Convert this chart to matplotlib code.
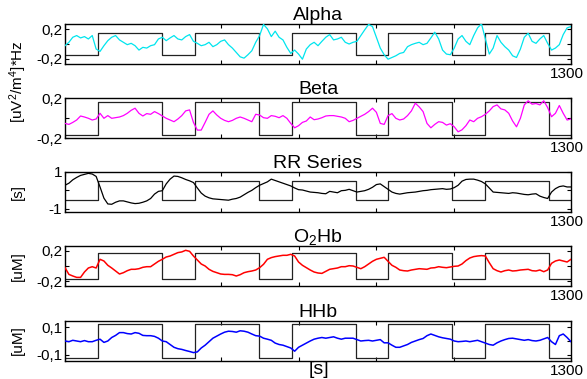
import matplotlib
matplotlib.use("Agg")
import matplotlib.pyplot as plt
from matplotlib.transforms import ScaledTranslation

plt.rcParams['font.family'] = ['Liberation Sans', 'DejaVu Sans']
plt.rcParams['mathtext.default'] = 'regular'

# ---------------- data ----------------
t = list(range(0, 1301, 10))

# block design (task on / off) transition times in seconds
task_on = [85, 334, 583, 831, 1079]
task_off = [250, 498, 747, 995, 1243]

alpha = [-0.023, 0.023, 0.091, 0.114, 0.082, 0.100, 0.068, 0.114, -0.068, -0.100,
         -0.023, 0.045, 0.091, 0.114, 0.055, 0.023, -0.009, 0.009, -0.023, -0.082,
         -0.045, -0.055, -0.023, -0.009, 0.068, 0.091, 0.045, 0.082, 0.114, 0.068,
         0.055, 0.100, 0.127, 0.036, 0.009, -0.023, -0.009, 0.023, -0.036, -0.009,
         0.036, 0.055, -0.009, -0.055, -0.114, -0.173, -0.191, -0.145, -0.091, 0.023,
         0.114, 0.264, 0.205, 0.100, 0.173, 0.091, 0.055, -0.045, -0.127, -0.082,
         -0.136, -0.205, -0.068, -0.009, 0.023, -0.023, 0.036, 0.091, 0.127, 0.055,
         0.068, 0.091, 0.023, 0.000, 0.023, 0.036, 0.114, 0.191, 0.264, 0.236,
         0.091, -0.055, -0.145, -0.205, -0.182, -0.159, -0.127, -0.114, -0.036, -0.009,
         0.009, 0.023, -0.009, 0.009, 0.082, 0.159, 0.068, -0.082, -0.136, -0.145,
         -0.055, 0.068, 0.114, 0.036, -0.009, 0.114, 0.218, 0.273, 0.068, -0.136,
         -0.055, 0.114, 0.023, -0.036, -0.082, -0.159, -0.182, -0.068, 0.091, 0.145,
         0.036, 0.009, 0.068, 0.114, 0.009, -0.082, -0.055, -0.009, 0.127, 0.218,
         0.236]

beta = [-0.054, -0.064, -0.044, -0.020, 0.020, 0.010, -0.003, -0.020, -0.010, 0.047,
        -0.003, 0.024, -0.003, 0.003, 0.010, 0.024, 0.047, 0.077, 0.098, 0.047,
        0.020, 0.044, 0.037, 0.064, 0.044, 0.020, -0.003, -0.020, -0.037, -0.010,
        0.024, 0.071, 0.081, -0.044, -0.121, -0.121, -0.044, 0.037, 0.071, 0.030,
        -0.003, -0.024, -0.037, -0.024, -0.003, 0.010, -0.003, -0.020, -0.037, 0.037,
        0.030, 0.003, -0.003, 0.024, 0.017, 0.003, 0.024, -0.003, -0.054, -0.098,
        -0.077, -0.044, -0.030, 0.010, -0.017, -0.010, 0.003, 0.020, 0.024, 0.024,
        0.017, 0.010, -0.003, -0.037, -0.024, -0.003, 0.017, 0.037, 0.064, 0.098,
        0.057, -0.054, -0.064, 0.024, 0.044, -0.003, -0.020, -0.010, 0.024, 0.071,
        0.148, 0.111, 0.064, -0.054, -0.098, -0.064, -0.037, -0.044, -0.071, -0.057,
        -0.088, -0.138, -0.118, -0.077, -0.020, -0.037, -0.003, 0.013, 0.037, 0.071,
        0.114, 0.131, 0.091, 0.081, 0.047, -0.030, -0.088, -0.003, 0.131, 0.172,
        0.138, 0.145, 0.131, 0.172, 0.104, 0.013, 0.047, 0.125, 0.047, -0.020,
        -0.010]

rr = [0.278, 0.389, 0.574, 0.704, 0.815, 0.870, 0.926, 0.889, 0.759, 0.185,
      -0.426, -0.741, -0.759, -0.648, -0.574, -0.574, -0.630, -0.685, -0.722, -0.704,
      -0.648, -0.574, -0.444, -0.204, -0.056, -0.019, 0.352, 0.611, 0.778, 0.759,
      0.685, 0.593, 0.519, 0.426, 0.130, -0.148, -0.315, -0.407, -0.463, -0.481,
      -0.500, -0.519, -0.537, -0.481, -0.444, -0.370, -0.241, -0.111, 0.000, 0.148,
      0.278, 0.370, 0.463, 0.611, 0.537, 0.463, 0.389, 0.315, 0.241, 0.130,
      0.037, 0.019, -0.037, -0.093, -0.111, -0.130, -0.167, -0.185, -0.056, -0.093,
      -0.130, -0.019, 0.000, 0.056, -0.019, -0.093, -0.056, -0.019, 0.056, 0.167,
      0.315, 0.352, 0.204, 0.056, -0.093, -0.167, -0.204, -0.167, -0.130, -0.111,
      -0.093, -0.056, -0.019, 0.000, 0.037, 0.056, 0.074, 0.093, 0.056, 0.074,
      0.148, 0.278, 0.500, 0.593, 0.611, 0.611, 0.556, 0.481, 0.352, 0.130,
      -0.093, -0.111, -0.130, -0.148, -0.167, -0.130, -0.148, -0.185, -0.222, -0.241,
      -0.204, -0.185, -0.315, -0.389, -0.444, -0.093, 0.093, 0.204, 0.241, 0.185,
      0.185]

o2hb = [-0.022, -0.109, -0.130, -0.148, -0.148, -0.078, -0.026, -0.009, -0.026, 0.087,
        0.065, 0.009, -0.026, -0.065, -0.104, -0.087, -0.061, -0.043, -0.043, -0.035,
        -0.017, -0.009, -0.009, 0.026, 0.061, 0.087, 0.117, 0.130, 0.152, 0.174,
        0.183, 0.204, 0.191, 0.130, 0.078, 0.026, 0.000, -0.043, -0.070, -0.087,
        -0.104, -0.109, -0.109, -0.113, -0.130, -0.113, -0.087, -0.074, -0.065, -0.052,
        -0.022, 0.022, 0.087, 0.109, 0.122, 0.130, 0.139, 0.139, 0.152, 0.130,
        0.052, 0.009, -0.022, -0.052, -0.078, -0.091, -0.096, -0.070, -0.043, -0.035,
        -0.026, -0.009, -0.009, 0.004, 0.000, -0.017, -0.035, -0.009, 0.026, 0.061,
        0.087, 0.100, 0.113, 0.061, 0.009, -0.017, -0.052, -0.061, -0.065, -0.052,
        -0.043, -0.035, -0.039, -0.043, -0.026, -0.022, -0.009, -0.017, -0.022, -0.013,
        -0.004, 0.000, 0.026, 0.070, 0.104, 0.122, 0.130, 0.135, 0.130, 0.043,
        -0.035, -0.061, -0.078, -0.061, -0.052, -0.065, -0.061, -0.052, -0.048, -0.043,
        -0.061, -0.065, -0.052, -0.074, -0.052, 0.035, 0.065, 0.078, 0.065, 0.052,
        0.087]

hhb = [0.000, -0.005, 0.005, 0.000, -0.005, 0.003, -0.005, -0.005, 0.005, 0.013,
       -0.010, 0.000, 0.025, 0.040, 0.060, 0.060, 0.053, 0.050, 0.060, 0.055,
       0.040, 0.038, 0.038, 0.033, 0.020, 0.000, -0.005, -0.025, -0.045, -0.055,
       -0.060, -0.068, -0.075, -0.083, -0.078, -0.050, -0.030, -0.005, 0.020, 0.035,
       0.050, 0.063, 0.070, 0.068, 0.063, 0.073, 0.070, 0.063, 0.050, 0.038,
       0.035, 0.020, 0.013, 0.005, -0.015, -0.025, -0.030, -0.040, -0.050, -0.073,
       -0.045, -0.030, -0.015, 0.000, 0.013, 0.020, 0.025, 0.020, 0.025, 0.030,
       0.020, 0.013, 0.020, 0.020, 0.020, 0.010, 0.000, 0.003, 0.005, 0.000,
       0.005, 0.010, -0.013, -0.013, -0.030, -0.045, -0.045, -0.035, -0.025, -0.010,
       0.000, 0.010, 0.018, 0.038, 0.050, 0.040, 0.030, 0.023, 0.018, 0.013,
       0.000, -0.005, -0.003, 0.000, -0.005, 0.000, 0.005, -0.005, -0.015, -0.025,
       -0.030, -0.013, 0.000, 0.010, 0.018, 0.020, 0.015, 0.010, 0.005, 0.010,
       0.003, 0.000, 0.005, 0.015, 0.025, -0.005, -0.025, 0.038, 0.050, 0.025,
       -0.005]

titles = ['Alpha', 'Beta', 'RR Series', 'O$_2$Hb', 'HHb']
colors = ['#00e5ee', '#ff00ff', '#000000', '#ff0000', '#0000ff']
series = [alpha, beta, rr, o2hb, hhb]
box_amp = [0.155, 0.165, 0.5, 0.165, 0.125]
ylims = [(-0.27, 0.27), (-0.2, 0.2), (-1.18, 1.0), (-0.26, 0.26), (-0.143, 0.143)]
ytick_vals = [[-0.2, 0, 0.2], [-0.2, 0, 0.2], [-1, 0, 1], [-0.2, 0, 0.2], [-0.1, 0, 0.1]]
ytick_labels = [['-0,2', '', '0,2'], ['-0,2', '', '0,2'], ['-1', '', '1'],
                ['-0,2', '', '0,2'], ['-0,1', '', '0,1']]
xtick_vals = [0, 400, 600, 800, 1000, 1300]
xtick_labels = ['', '', '', '', '', '1300']

# --------------- figure ---------------
W, H = 587, 379
fig = plt.figure(figsize=(W / 100, H / 100), dpi=100)

left_px, right_px = 65, 571
tops_px = [24, 98, 172, 246, 321]
h_px = 40

# square wave path built from transition times
sq_x = [0]
state = [-1]
for on, off in zip(task_on, task_off):
    sq_x += [on, on, off, off]
    state += [-1, 1, 1, -1]
sq_x.append(1300)
state.append(-1)

shift = ScaledTranslation(-4 / 100, 0, fig.dpi_scale_trans)

for i in range(5):
    ax = fig.add_axes([left_px / W, 1 - (tops_px[i] + h_px) / H,
                       (right_px - left_px) / W, h_px / H])
    lw = 1.1 if i >= 3 else 0.9
    ax.plot(t, series[i], color=colors[i], lw=lw, zorder=3)
    ax.plot(sq_x, [s * box_amp[i] for s in state], color='#222222', lw=0.9, zorder=2)
    ax.set_xlim(0, 1300)
    ax.set_ylim(*ylims[i])
    ax.set_yticks(ytick_vals[i])
    ax.set_yticklabels(ytick_labels[i])
    ax.set_xticks(xtick_vals)
    ax.set_xticklabels(xtick_labels)
    ax.tick_params(direction='in', top=True, right=True, length=3, width=0.8,
                   labelsize=11, pad=2)
    for sp in ax.spines.values():
        sp.set_linewidth(1.0)
    ax.set_title(titles[i], fontsize=14, pad=3)
    for lab in ax.get_xticklabels():
        lab.set_transform(lab.get_transform() + shift)

# y axis unit labels
fig.text(18 / W, 1 - 82 / H, '[uV$^2$/m$^4$]*Hz', rotation=90, ha='center', va='center', fontsize=11)
fig.text(18 / W, 1 - 192 / H, '[s]', rotation=90, ha='center', va='center', fontsize=11)
fig.text(18 / W, 1 - 266 / H, '[uM]', rotation=90, ha='center', va='center', fontsize=11)
fig.text(18 / W, 1 - 340 / H, '[uM]', rotation=90, ha='center', va='center', fontsize=11)

fig.text(319 / W, 1 - 369 / H, '[s]', ha='center', va='center', fontsize=14)

fig.savefig('out.png', dpi=100)
